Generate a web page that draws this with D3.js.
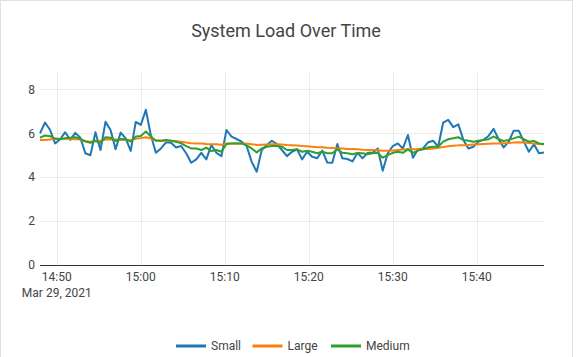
<!DOCTYPE html>
<html>
<head>
<meta charset="utf-8">
<script src="https://cdn.jsdelivr.net/npm/d3@7"></script>
<style>
  html, body { margin: 0; padding: 0; background: #fff; }
  svg { display: block; font-family: Roboto, "Noto Sans", sans-serif; }
</style>
</head>
<body>
<svg id="chart" width="582" height="357"></svg>
<script>
// ---- data ----
const title = "System Load Over Time";
const seriesNames = ["Small", "Large", "Medium"];
const seriesColors = ["#1f77b4", "#ff7f0e", "#2ca02c"];
const startTime = new Date(2021, 2, 29, 14, 48, 0);
const endTime = new Date(2021, 2, 29, 15, 48, 0);
const stepSeconds = 36;
const yTicks = [0, 2, 4, 6, 8];
const dateLabel = "Mar 29, 2021";

const small = [
  6.0, 6.49, 6.15, 5.54, 5.73, 6.05, 5.7, 6.02, 5.8, 5.09,
  5.0, 6.05, 5.24, 6.52, 6.15, 5.27, 6.03, 5.77, 5.2, 6.52,
  6.38, 7.07, 5.9, 5.11, 5.31, 5.59, 5.57, 5.35, 5.42, 5.09,
  4.66, 4.81, 5.11, 4.81, 5.47, 5.11, 4.96, 6.15, 5.85, 5.74,
  5.62, 5.42, 4.70, 4.25, 5.24, 5.47, 5.66, 5.51, 5.24, 4.96,
  5.16, 5.27, 4.81, 5.16, 4.93, 4.86, 5.21, 4.67, 4.66, 5.51,
  4.86, 4.83, 4.72, 5.11, 4.86, 5.11, 5.11, 5.31, 4.29, 5.09,
  5.42, 5.54, 5.31, 5.92, 4.89, 5.27, 5.31, 5.59, 5.66, 5.39,
  6.49, 6.61, 6.28, 6.41, 5.70, 5.31, 5.39, 5.62, 5.70, 5.88,
  6.20, 5.73, 5.36, 5.62, 6.12, 6.12, 5.62, 5.16, 5.50, 5.09,
  5.13
];
const large = [
  5.69, 5.70, 5.72, 5.74, 5.75, 5.75, 5.74, 5.73, 5.72, 5.65,
  5.62, 5.64, 5.66, 5.72, 5.73, 5.72, 5.71, 5.70, 5.68, 5.75,
  5.78, 5.82, 5.76, 5.68, 5.66, 5.66, 5.66, 5.64, 5.62, 5.58,
  5.55, 5.54, 5.53, 5.51, 5.50, 5.50, 5.48, 5.53, 5.54, 5.54,
  5.54, 5.53, 5.50, 5.47, 5.48, 5.49, 5.50, 5.50, 5.49, 5.47,
  5.46, 5.44, 5.42, 5.41, 5.39, 5.37, 5.36, 5.34, 5.33, 5.31,
  5.31, 5.29, 5.28, 5.27, 5.25, 5.24, 5.24, 5.23, 5.21, 5.21,
  5.22, 5.24, 5.26, 5.27, 5.27, 5.27, 5.28, 5.29, 5.31, 5.34,
  5.38, 5.41, 5.43, 5.45, 5.46, 5.47, 5.49, 5.50, 5.51, 5.52,
  5.53, 5.54, 5.55, 5.56, 5.58, 5.59, 5.58, 5.56, 5.53, 5.51,
  5.50
];
const medium = [
  5.80, 5.90, 5.87, 5.76, 5.73, 5.77, 5.80, 5.82, 5.75, 5.62,
  5.57, 5.66, 5.57, 5.82, 5.80, 5.65, 5.74, 5.73, 5.62, 5.85,
  5.88, 6.08, 5.85, 5.66, 5.66, 5.70, 5.66, 5.62, 5.54, 5.42,
  5.31, 5.31, 5.24, 5.35, 5.19, 5.24, 5.16, 5.51, 5.54, 5.54,
  5.54, 5.45, 5.31, 5.13, 5.31, 5.39, 5.42, 5.42, 5.39, 5.24,
  5.24, 5.27, 5.16, 5.20, 5.16, 5.09, 5.16, 5.09, 5.09, 5.27,
  5.11, 5.09, 5.05, 5.10, 5.09, 5.05, 5.09, 5.11, 4.89, 5.01,
  5.11, 5.16, 5.11, 5.27, 5.11, 5.21, 5.27, 5.36, 5.39, 5.39,
  5.62, 5.73, 5.77, 5.82, 5.70, 5.66, 5.62, 5.66, 5.70, 5.73,
  5.85, 5.73, 5.65, 5.70, 5.77, 5.85, 5.73, 5.62, 5.65, 5.54,
  5.51
];
const seriesValues = [small, large, medium];

// ---- layout ----
const svg = d3.select("#chart");
const plotLeft = 40, plotRight = 544, plotTop = 72, plotBottom = 265;

const times = small.map((_, i) => new Date(startTime.getTime() + i * stepSeconds * 1000));

const x = d3.scaleTime().domain([startTime, endTime]).range([plotLeft, plotRight]);
const y = d3.scaleLinear().domain([0, 8]).range([plotBottom, 89.4]);

// card border
svg.append("rect")
  .attr("x", 0.5).attr("y", 0.5)
  .attr("width", 572).attr("height", 370)
  .attr("fill", "none").attr("stroke", "#e0e0e0");

// title
svg.append("text")
  .attr("x", 286).attr("y", 36.5)
  .attr("text-anchor", "middle")
  .attr("font-size", 18)
  .attr("fill", "#444")
  .text(title);

// horizontal grid
const xTicks = x.ticks(d3.timeMinute.every(10)).filter(t => t > startTime);
svg.append("g").selectAll("line")
  .data(yTicks.filter(v => v > 0))
  .join("line")
  .attr("x1", plotLeft).attr("x2", plotRight)
  .attr("y1", d => Math.round(y(d)) + 0.5).attr("y2", d => Math.round(y(d)) + 0.5)
  .attr("stroke", "#ebebeb");

// vertical grid
svg.append("g").selectAll("line")
  .data(xTicks)
  .join("line")
  .attr("x1", d => Math.round(x(d)) + 0.5).attr("x2", d => Math.round(x(d)) + 0.5)
  .attr("y1", plotTop).attr("y2", plotBottom)
  .attr("stroke", "#ebebeb");

// y labels
svg.append("g").selectAll("text")
  .data(yTicks)
  .join("text")
  .attr("x", 35).attr("y", d => y(d))
  .attr("dy", "0.35em")
  .attr("text-anchor", "end")
  .attr("font-size", 12)
  .attr("fill", "#444")
  .text(d => d);

// x labels
const fmt = d3.timeFormat("%H:%M");
svg.append("g").selectAll("text")
  .data(xTicks)
  .join("text")
  .attr("x", d => x(d)).attr("y", 281)
  .attr("text-anchor", "middle")
  .attr("font-size", 12)
  .attr("fill", "#444")
  .text(d => fmt(d));
svg.append("text")
  .attr("x", x(xTicks[0])).attr("y", 297)
  .attr("text-anchor", "middle")
  .attr("font-size", 12)
  .attr("fill", "#444")
  .text(dateLabel);

// lines
const line = d3.line().x((d, i) => x(times[i])).y(d => y(d));
seriesValues.forEach((vals, k) => {
  svg.append("path")
    .datum(vals)
    .attr("d", line)
    .attr("fill", "none")
    .attr("stroke", seriesColors[k])
    .attr("stroke-width", 2)
    .attr("stroke-linejoin", "round");
});

// x axis line
svg.append("line")
  .attr("x1", plotLeft).attr("x2", plotRight)
  .attr("y1", Math.round(y(0)) + 0.5).attr("y2", Math.round(y(0)) + 0.5)
  .attr("stroke", "#333");

// legend
const legendX = [176, 252.5, 331];
const legendY = 346;
const lg = svg.append("g");
seriesNames.forEach((name, k) => {
  lg.append("line")
    .attr("x1", legendX[k]).attr("x2", legendX[k] + 30)
    .attr("y1", legendY).attr("y2", legendY)
    .attr("stroke", seriesColors[k]).attr("stroke-width", 3);
  lg.append("text")
    .attr("x", legendX[k] + 35).attr("y", legendY)
    .attr("dy", "0.35em")
    .attr("font-size", 12)
    .attr("fill", "#444")
    .text(name);
});
</script>
</body>
</html>
